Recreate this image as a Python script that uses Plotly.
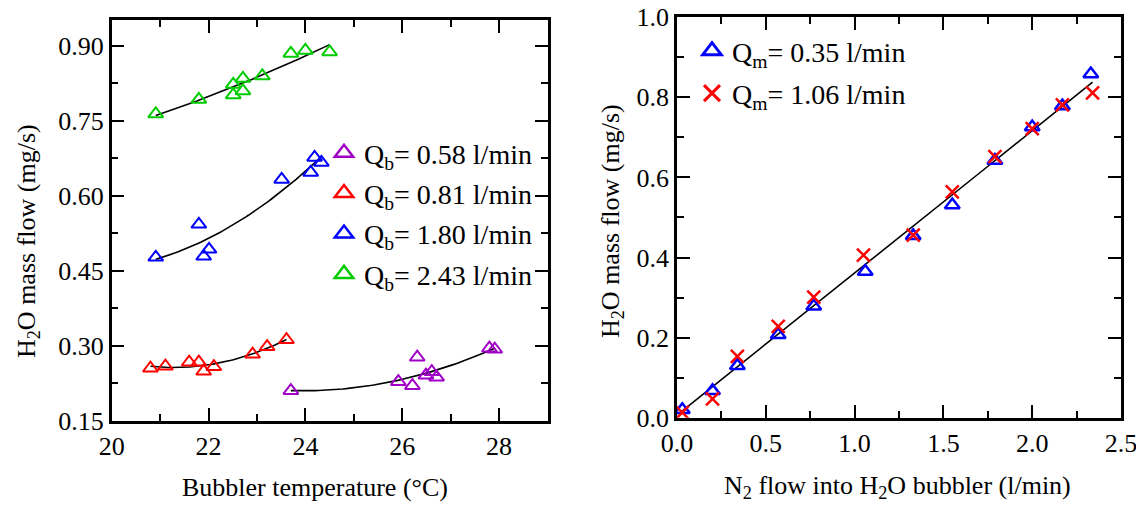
import numpy as np
import plotly.graph_objects as go

# ---- Left panel: H2O mass flow vs bubbler temperature ----
temp_058 = [23.70, 25.92, 26.21, 26.31, 26.49, 26.61, 26.71, 27.80, 27.91]
flow_058 = [0.210, 0.228, 0.220, 0.277, 0.241, 0.248, 0.237, 0.295, 0.293]

temp_081 = [20.80, 21.11, 21.60, 21.80, 21.90, 22.11, 22.91, 23.21, 23.61]
flow_081 = [0.255, 0.259, 0.267, 0.267, 0.249, 0.258, 0.283, 0.298, 0.312]

temp_180 = [20.91, 21.80, 21.90, 22.01, 23.51, 24.11, 24.19, 24.33]
flow_180 = [0.477, 0.543, 0.479, 0.493, 0.633, 0.647, 0.677, 0.667]

temp_243 = [20.91, 21.80, 22.51, 22.51, 22.71, 22.71, 23.11, 23.70, 24.00, 24.50]
flow_243 = [0.764, 0.793, 0.823, 0.802, 0.835, 0.810, 0.840, 0.885, 0.891, 0.888]

left_names = ["Q<sub>b</sub>= 0.58 l/min", "Q<sub>b</sub>= 0.81 l/min",
              "Q<sub>b</sub>= 1.80 l/min", "Q<sub>b</sub>= 2.43 l/min"]
left_colors = ["#A000C8", "#FF0000", "#0000FF", "#00CC00"]

left_xticks = [20, 22, 24, 26, 28]
left_yticks = [0.15, 0.30, 0.45, 0.60, 0.75, 0.90]

# ---- Right panel: H2O mass flow vs N2 flow into bubbler ----
n2_035 = [0.03, 0.20, 0.34, 0.57, 0.77, 1.06, 1.33, 1.55, 1.79, 2.00, 2.17, 2.33]
h2o_035 = [0.020, 0.067, 0.130, 0.207, 0.278, 0.365, 0.454, 0.531, 0.642, 0.726, 0.778, 0.858]

n2_106 = [0.03, 0.20, 0.34, 0.57, 0.77, 1.05, 1.33, 1.55, 1.79, 2.00, 2.17, 2.34]
h2o_106 = [0.013, 0.047, 0.153, 0.228, 0.301, 0.406, 0.456, 0.564, 0.652, 0.722, 0.781, 0.811]

right_names = ["Q<sub>m</sub>= 0.35 l/min", "Q<sub>m</sub>= 1.06 l/min"]
right_colors = ["#0000FF", "#FF0000"]
right_symbols = ["triangle-up-open", "x-thin-open"]

right_xticks = [0.0, 0.5, 1.0, 1.5, 2.0, 2.5]
right_yticks = [0.0, 0.2, 0.4, 0.6, 0.8, 1.0]

FONT = "Liberation Serif"

fig = go.Figure()


def fit_curve(xs, ys, deg=2, n=60):
    c = np.polyfit(xs, ys, deg)
    xx = np.linspace(min(xs), max(xs), n)
    return xx, np.polyval(c, xx)


left_sets = [(temp_058, flow_058), (temp_081, flow_081),
             (temp_180, flow_180), (temp_243, flow_243)]

for (xs, ys) in left_sets:
    fx, fy = fit_curve(xs, ys)
    fig.add_trace(go.Scatter(x=fx, y=fy, mode="lines",
                             line=dict(color="black", width=1.6),
                             showlegend=False, hoverinfo="skip",
                             xaxis="x", yaxis="y"))

for i, (xs, ys) in enumerate(left_sets):
    fig.add_trace(go.Scatter(x=xs, y=ys, mode="markers", name=left_names[i],
                             marker=dict(symbol="triangle-up-open", size=13,
                                         color=left_colors[i],
                                         line=dict(color=left_colors[i], width=2)),
                             showlegend=False, legendgroup=f"l{i}",
                             xaxis="x", yaxis="y"))
    # legend entry with a larger key symbol
    fig.add_trace(go.Scatter(x=[None], y=[None], mode="markers", name=left_names[i],
                             marker=dict(symbol="triangle-up-open", size=16,
                                         color=left_colors[i],
                                         line=dict(color=left_colors[i], width=2.5)),
                             legend="legend", legendgroup=f"l{i}",
                             xaxis="x", yaxis="y"))

# fit through both right-panel series
fx, fy = fit_curve(n2_035 + n2_106, h2o_035 + h2o_106)
fig.add_trace(go.Scatter(x=fx, y=fy, mode="lines",
                         line=dict(color="black", width=1.6),
                         showlegend=False, hoverinfo="skip",
                         xaxis="x2", yaxis="y2"))

right_sets = [(n2_035, h2o_035), (n2_106, h2o_106)]
for i, (xs, ys) in enumerate(right_sets):
    fig.add_trace(go.Scatter(x=xs, y=ys, mode="markers", name=right_names[i],
                             marker=dict(symbol=right_symbols[i], size=13,
                                         color=right_colors[i],
                                         line=dict(color=right_colors[i], width=2.5)),
                             showlegend=False, legendgroup=f"r{i}",
                             xaxis="x2", yaxis="y2"))
    fig.add_trace(go.Scatter(x=[None], y=[None], mode="markers", name=right_names[i],
                             marker=dict(symbol=right_symbols[i], size=16,
                                         color=right_colors[i],
                                         line=dict(color=right_colors[i], width=3)),
                             legend="legend2", legendgroup=f"r{i}",
                             xaxis="x2", yaxis="y2"))

W, H = 1136, 506


def axis_common(**kw):
    d = dict(showline=True, linecolor="black", linewidth=2.5, mirror="allticks",
             ticks="inside", ticklen=13, tickwidth=2, tickcolor="black",
             showgrid=False, zeroline=False, ticklabeloverflow="allow",
             tickfont=dict(family=FONT, size=26, color="black"),
             automargin=False)
    d.update(kw)
    return d


def minor(step):
    return dict(ticks="inside", ticklen=7, tickwidth=2, tickcolor="black", dtick=step)


fig.update_layout(
    width=W, height=H,
    margin=dict(l=0, r=0, t=0, b=0),
    paper_bgcolor="white", plot_bgcolor="white",
    font=dict(family=FONT, size=26, color="black"),
    xaxis=axis_common(domain=[111.7 / W, 547.5 / W], range=[20, 29], anchor="y",
                      tickmode="array", tickvals=left_xticks,
                      ticktext=[str(v) for v in left_xticks],
                      minor=dict(minor(1), tick0=20)),
    yaxis=axis_common(domain=[(H - 420.7) / H, (H - 20) / H], range=[0.15, 0.952],
                      anchor="x", tickmode="array", tickvals=left_yticks,
                      ticktext=[f"{v:.2f}" for v in left_yticks],
                      minor=dict(minor(0.075), tick0=0.15)),
    xaxis2=axis_common(domain=[677 / W, 1121 / W], range=[0, 2.5], anchor="y2",
                       tickmode="array", tickvals=right_xticks,
                       ticktext=[f"{v:.1f}" for v in right_xticks],
                       minor=dict(minor(0.25), tick0=0)),
    yaxis2=axis_common(domain=[(H - 417.7) / H, (H - 17.2) / H], range=[0, 1.0],
                       anchor="x2", tickmode="array", tickvals=right_yticks,
                       ticktext=[f"{v:.1f}" for v in right_yticks],
                       minor=dict(minor(0.1), tick0=0)),
    legend=dict(x=324 / W, y=(H - 128) / H, xanchor="left", yanchor="top",
                bgcolor="rgba(0,0,0,0)", borderwidth=0,
                font=dict(family=FONT, size=28, color="black"),
                tracegroupgap=1, itemwidth=30),
    legend2=dict(x=692 / W, y=(H - 26) / H, xanchor="left", yanchor="top",
                 bgcolor="rgba(0,0,0,0)", borderwidth=0,
                 font=dict(family=FONT, size=28, color="black"),
                 tracegroupgap=3, itemwidth=30),
    showlegend=True,
)

title_font = dict(family=FONT, size=26, color="black")
annotations = [
    dict(text="H<sub>2</sub>O mass flow (mg/s)", x=28 / W, y=(H - 241) / H,
         textangle=-90, showarrow=False, xref="paper", yref="paper",
         xanchor="center", yanchor="middle", font=title_font),
    dict(text="H<sub>2</sub>O mass flow (mg/s)", x=612 / W, y=(H - 221) / H,
         textangle=-90, showarrow=False, xref="paper", yref="paper",
         xanchor="center", yanchor="middle", font=title_font),
    dict(text="Bubbler temperature (°C)", x=315 / W, y=(H - 487) / H,
         showarrow=False, xref="paper", yref="paper",
         xanchor="center", yanchor="middle", font=title_font),
    dict(text="N<sub>2</sub> flow into H<sub>2</sub>O bubbler (l/min)", x=897 / W,
         y=(H - 487) / H, showarrow=False, xref="paper", yref="paper",
         xanchor="center", yanchor="middle", font=title_font),
]
fig.update_layout(annotations=annotations)

fig.write_html("out.html")
